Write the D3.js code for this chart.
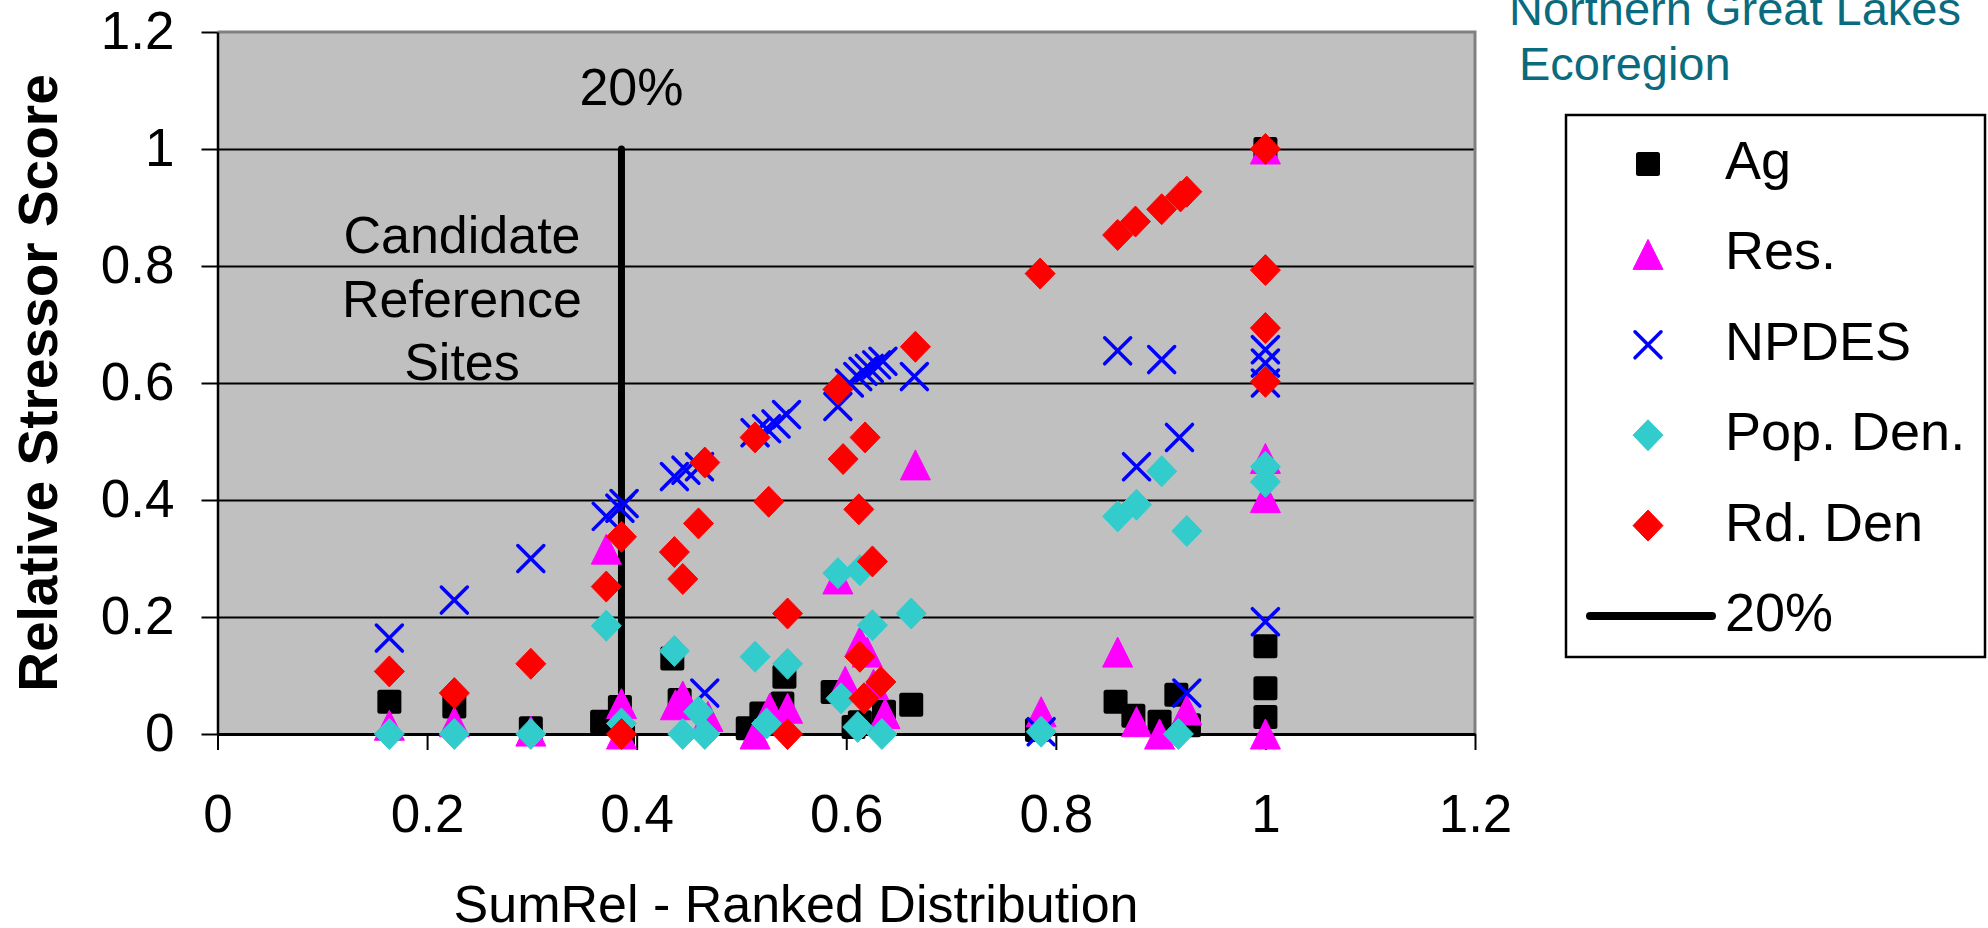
<!DOCTYPE html>
<html>
<head>
<meta charset="utf-8">
<script src="https://cdn.jsdelivr.net/npm/d3@7"></script>
<style>
body { margin: 0; background: #fff; }
text { font-family: "Liberation Sans", Arial, sans-serif; }
</style>
</head>
<body>
<script>
// tick values on both axes
var xTicks = [0, 0.2, 0.4, 0.6, 0.8, 1, 1.2];
var yTicks = [0, 0.2, 0.4, 0.6, 0.8, 1, 1.2];

// 20% cutoff on the ranked distribution
var cutoff = 0.3855;

// points: [SumRel ranked, relative stressor score]
var agPts = [
    [0.164, 0.055], [0.226, 0.047], [0.299, 0.010], [0.367, 0.021], [0.384, 0.046], [0.387, 0.0],
    [0.434, 0.129], [0.441, 0.058], [0.506, 0.010], [0.519, 0.035], [0.541, 0.098], [0.539, 0.052],
    [0.587, 0.072], [0.607, 0.012], [0.613, 0.020], [0.636, 0.038], [0.662, 0.050],
    [0.782, 0.007], [0.857, 0.055], [0.874, 0.031], [0.899, 0.021], [0.915, 0.067], [0.927, 0.015],
    [1.0, 1.0], [1.0, 0.150], [1.0, 0.078], [1.0, 0.029]
];
var resPts = [
    [0.164, 0.015], [0.226, 0.021], [0.299, 0.005], [0.371, 0.316], [0.3855, 0.052], [0.3855, 0.0],
    [0.437, 0.050], [0.444, 0.065], [0.468, 0.030], [0.513, 0.0], [0.527, 0.044], [0.544, 0.044],
    [0.592, 0.265], [0.599, 0.090], [0.613, 0.158], [0.620, 0.140], [0.626, 0.085], [0.637, 0.035], [0.666, 0.460],
    [0.786, 0.038], [0.859, 0.140], [0.877, 0.021], [0.899, 0.0], [0.925, 0.041],
    [1.0, 1.0], [1.0, 0.471], [1.0, 0.404], [1.0, 0.0]
];
var npdesPts = [
    [0.164, 0.164], [0.226, 0.229], [0.299, 0.300], [0.371, 0.372], [0.384, 0.386], [0.388, 0.394],
    [0.436, 0.440], [0.447, 0.451], [0.460, 0.457], [0.465, 0.070],
    [0.513, 0.515], [0.524, 0.522], [0.533, 0.530], [0.543, 0.546],
    [0.592, 0.560], [0.603, 0.600], [0.611, 0.611], [0.616, 0.620], [0.622, 0.625], [0.629, 0.631],
    [0.635, 0.637], [0.665, 0.611],
    [0.786, 0.004], [0.859, 0.655], [0.877, 0.457], [0.901, 0.640], [0.918, 0.507], [0.925, 0.070],
    [1.0, 0.657], [1.0, 0.634], [1.0, 0.600], [1.0, 0.192]
];
var popPts = [
    [0.164, 0.0], [0.226, 0.0], [0.299, 0.0], [0.371, 0.185], [0.3855, 0.018],
    [0.436, 0.142], [0.444, 0.0], [0.459, 0.038], [0.465, 0.0],
    [0.513, 0.132], [0.524, 0.018], [0.544, 0.120],
    [0.592, 0.275], [0.595, 0.061], [0.611, 0.012], [0.613, 0.280], [0.625, 0.186], [0.634, 0.0], [0.662, 0.206],
    [0.786, 0.004], [0.859, 0.372], [0.877, 0.392], [0.901, 0.449], [0.917, 0.0], [0.925, 0.347],
    [1.0, 0.457], [1.0, 0.431]
];
var rdPts = [
    [0.164, 0.107], [0.226, 0.070], [0.299, 0.120], [0.371, 0.252], [0.3855, 0.337], [0.3855, 0.0],
    [0.436, 0.311], [0.444, 0.265], [0.459, 0.360], [0.465, 0.464],
    [0.513, 0.507], [0.526, 0.397], [0.544, 0.206], [0.544, 0.0],
    [0.592, 0.589], [0.597, 0.470], [0.612, 0.384], [0.613, 0.132], [0.617, 0.061], [0.618, 0.507],
    [0.625, 0.295], [0.633, 0.089], [0.666, 0.662],
    [0.785, 0.787], [0.859, 0.853], [0.876, 0.876], [0.901, 0.897], [0.919, 0.919], [0.925, 0.927],
    [1.0, 1.0], [1.0, 0.793], [1.0, 0.694], [1.0, 0.602]
];

var series = [
    {name: "Ag", pts: agPts, shape: "square", color: "#000000"},
    {name: "Res.", pts: resPts, shape: "triangle", color: "#ff00ff"},
    {name: "NPDES", pts: npdesPts, shape: "x", color: "#0000ff"},
    {name: "Pop. Den.", pts: popPts, shape: "diamond", color: "#33cccc"},
    {name: "Rd. Den", pts: rdPts, shape: "diamond", color: "#ff0000"}
];

//---------setup plot-----------------------//
var width = 1988, height = 928;
var plot = {left: 217.5, right: 1475, top: 32, bottom: 734};

var x = d3.scaleLinear().domain([0, 1.2]).range([plot.left, plot.right]);
var y = d3.scaleLinear().domain([0, 1.2]).range([plot.bottom, plot.top]);

var fmt = function (d) { return String(+d.toFixed(1)); };

var svg = d3.select("body").append("svg")
    .attr("width", width)
    .attr("height", height);

// grey plot area
svg.append("rect")
    .attr("x", plot.left)
    .attr("y", plot.top)
    .attr("width", plot.right - plot.left)
    .attr("height", plot.bottom - plot.top)
    .attr("fill", "#c0c0c0");

// horizontal gridlines
svg.append("g")
    .attr("transform", "translate(" + plot.left + ",0)")
    .call(d3.axisLeft(y)
        .tickValues(yTicks.filter(function (v) { return v > 0 && v < 1.2; }))
        .tickSize(-(plot.right - plot.left))
        .tickFormat(""))
    .call(function (g) {
        g.select(".domain").remove();
        g.selectAll("line").attr("stroke", "#000").attr("stroke-width", 2);
    });

// top and right border
svg.append("path")
    .attr("d", "M" + plot.left + "," + plot.top + "H" + plot.right + "V" + plot.bottom)
    .attr("fill", "none")
    .attr("stroke", "#808080")
    .attr("stroke-width", 3);

// y-axis
svg.append("g")
    .attr("transform", "translate(" + plot.left + ",0)")
    .call(d3.axisLeft(y).tickValues(yTicks).tickSize(16).tickSizeOuter(0).tickPadding(27).tickFormat(fmt))
    .call(function (g) {
        g.select(".domain").attr("stroke", "#000").attr("stroke-width", 2.5);
        g.selectAll("line").attr("stroke", "#000").attr("stroke-width", 2);
        g.selectAll("text").attr("font-size", 53).attr("fill", "#000")
            .attr("font-family", "Liberation Sans, Arial, sans-serif");
    });

// x-axis
svg.append("g")
    .attr("transform", "translate(0," + plot.bottom + ")")
    .call(d3.axisBottom(x).tickValues(xTicks).tickSize(16).tickSizeOuter(0).tickPadding(44).tickFormat(fmt))
    .call(function (g) {
        g.select(".domain").attr("stroke", "#000").attr("stroke-width", 3);
        g.selectAll("line").attr("stroke", "#000").attr("stroke-width", 2);
        g.selectAll("text").attr("font-size", 53).attr("fill", "#000")
            .attr("font-family", "Liberation Sans, Arial, sans-serif");
    });

// axis titles
svg.append("text")
    .attr("transform", "translate(57," + (plot.top + plot.bottom) / 2 + ") rotate(-90)")
    .attr("text-anchor", "middle")
    .attr("font-size", 55)
    .attr("font-weight", "bold")
    .text("Relative Stressor Score");

svg.append("text")
    .attr("x", 796)
    .attr("y", 922)
    .attr("text-anchor", "middle")
    .attr("font-size", 52)
    .text("SumRel - Ranked Distribution");

// 20% line
svg.append("line")
    .attr("x1", x(cutoff)).attr("x2", x(cutoff))
    .attr("y1", y(1)).attr("y2", y(0))
    .attr("stroke", "#000")
    .attr("stroke-width", 7)
    .attr("stroke-linecap", "round");

svg.append("text")
    .attr("x", x(cutoff) + 10)
    .attr("y", 105)
    .attr("text-anchor", "middle")
    .attr("font-size", 52)
    .text("20%");

var cand = ["Candidate", "Reference", "Sites"];
svg.append("text")
    .attr("text-anchor", "middle")
    .attr("font-size", 52)
    .selectAll("tspan")
    .data(cand)
    .enter().append("tspan")
    .attr("x", 462)
    .attr("y", function (d, i) { return 253 + i * 63.5; })
    .text(function (d) { return d; });

//-------------markers----------//
function drawMarker(g, shape, color) {
    if (shape === "square") {
        g.append("rect").attr("x", -12).attr("y", -12).attr("width", 24).attr("height", 24)
            .attr("rx", 2.5).attr("fill", color);
    } else if (shape === "triangle") {
        g.append("path").attr("d", "M0,-15L15,15L-15,15Z").attr("fill", color)
            .attr("stroke", color).attr("stroke-width", 1).attr("stroke-linejoin", "round");
    } else if (shape === "diamond") {
        g.append("path").attr("d", "M0,-15.5L15,0L0,15.5L-15,0Z").attr("fill", color)
            .attr("stroke", color).attr("stroke-width", 1).attr("stroke-linejoin", "round");
    } else {
        g.append("path").attr("d", "M-13,-13L13,13M13,-13L-13,13").attr("fill", "none")
            .attr("stroke", color).attr("stroke-width", 3.5).attr("stroke-linecap", "round");
    }
}

series.forEach(function (s) {
    svg.append("g")
        .attr("class", "series")
        .selectAll("g")
        .data(s.pts)
        .enter().append("g")
        .attr("transform", function (d) { return "translate(" + x(d[0]) + "," + y(d[1]) + ")"; })
        .each(function () { drawMarker(d3.select(this), s.shape, s.color); });
});

//-------------title and legend----------//
svg.append("text")
    .attr("fill", "#0b6b7e")
    .attr("font-size", 47)
    .selectAll("tspan")
    .data(["Northern Great Lakes", "Ecoregion"])
    .enter().append("tspan")
    .attr("x", function (d, i) { return i === 0 ? 1509 : 1519; })
    .attr("y", function (d, i) { return 25 + i * 55; })
    .text(function (d) { return d; });

svg.append("rect")
    .attr("x", 1566).attr("y", 115)
    .attr("width", 419).attr("height", 542)
    .attr("fill", "#fff")
    .attr("stroke", "#000")
    .attr("stroke-width", 2.5);

var legendItems = series.map(function (s) { return {name: s.name, shape: s.shape, color: s.color}; });
legendItems.push({name: "20%", shape: "line", color: "#000"});

var leg = svg.append("g").selectAll("g")
    .data(legendItems)
    .enter().append("g")
    .attr("transform", function (d, i) { return "translate(0," + (164 + i * 90.4) + ")"; });

leg.each(function (d) {
    var g = d3.select(this);
    if (d.shape === "line") {
        g.append("line").attr("x1", 1590).attr("x2", 1712).attr("y1", 0).attr("y2", 0)
            .attr("stroke", "#000").attr("stroke-width", 8).attr("stroke-linecap", "round");
    } else {
        var m = g.append("g").attr("transform", "translate(1648,0)");
        drawMarker(m, d.shape, d.color);
    }
    g.append("text")
        .attr("x", 1725)
        .attr("y", 15)
        .attr("font-size", 54)
        .text(d.name);
});
</script>
</body>
</html>
